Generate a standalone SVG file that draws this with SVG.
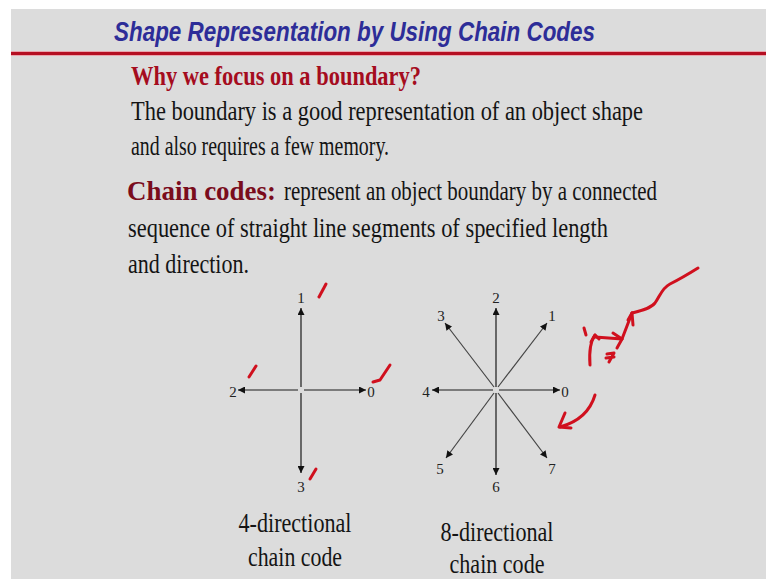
<svg xmlns="http://www.w3.org/2000/svg" width="766" height="579" viewBox="0 0 766 579">
<defs>
<marker id="ah" viewBox="0 0 10 10" refX="10" refY="5" markerWidth="8" markerHeight="7" markerUnits="userSpaceOnUse" orient="auto">
<path d="M0,0 L10,5 L0,10 z" fill="#111"/>
</marker>
<style>
.title{font-family:"Liberation Sans",Arial,sans-serif;font-weight:bold;font-style:italic;font-size:27px;fill:#2d2d98}
.body{font-family:"Liberation Serif","Times New Roman",serif;font-size:27px;fill:#141414}
.hd{font-family:"Liberation Serif","Times New Roman",serif;font-size:27px;font-weight:bold}
.lbl{font-family:"Liberation Serif","Times New Roman",serif;font-size:15px;fill:#222;text-anchor:middle}
.cap{font-family:"Liberation Serif","Times New Roman",serif;font-size:28px;fill:#141414;text-anchor:middle}
.ax{stroke:#1a1a1a;stroke-width:1.2;fill:none;marker-end:url(#ah)}
.dg{stroke:#444}
.ink{stroke:#d0101e;stroke-width:3;fill:none;stroke-linecap:round;stroke-linejoin:round}
</style>
</defs>
<rect x="0" y="0" width="766" height="579" fill="#ffffff"/>
<rect x="11" y="9" width="755" height="570" fill="#dcdcdc"/>
<text class="title" x="114" y="41" textLength="481" lengthAdjust="spacingAndGlyphs">Shape Representation by Using Chain Codes</text>
<rect x="11" y="51" width="755" height="5" fill="#e9a6ae"/>
<rect x="11" y="52" width="755" height="3" fill="#b50f22"/>

<text class="hd" x="131" y="85" fill="#a50c1e" textLength="290" lengthAdjust="spacingAndGlyphs">Why we focus on a boundary?</text>
<text class="body" x="131" y="120" textLength="512" lengthAdjust="spacingAndGlyphs">The boundary is a good representation of an object shape</text>
<text class="body" x="131" y="155" textLength="258" lengthAdjust="spacingAndGlyphs">and also requires a few memory.</text>
<text class="hd" x="127" y="200" fill="#7a0c1c" textLength="149" lengthAdjust="spacingAndGlyphs">Chain codes:</text>
<text class="body" x="284" y="200" textLength="373" lengthAdjust="spacingAndGlyphs">represent an object boundary by a connected</text>
<text class="body" x="128" y="237" textLength="480" lengthAdjust="spacingAndGlyphs">sequence of straight line segments of specified length</text>
<text class="body" x="128" y="273" textLength="121" lengthAdjust="spacingAndGlyphs">and direction.</text>

<g id="connectors">
<line class="ax" x1="301" y1="387" x2="301" y2="308"/>
<line class="ax" x1="298" y1="390" x2="238" y2="390"/>
<line class="ax" x1="304" y1="390" x2="366" y2="390"/>
<line class="ax" x1="301" y1="393" x2="301" y2="473"/>

<line class="ax" x1="496" y1="387" x2="496" y2="308"/>
<line class="ax" x1="493" y1="390" x2="432" y2="390"/>
<line class="ax" x1="499" y1="390" x2="560" y2="390"/>
<line class="ax" x1="496" y1="393" x2="496" y2="475"/>
<line class="ax dg" x1="498" y1="387" x2="547" y2="323"/>
<line class="ax dg" x1="494" y1="387" x2="445" y2="323"/>
<line class="ax dg" x1="494" y1="393" x2="446" y2="458"/>
<line class="ax dg" x1="498" y1="393" x2="547" y2="458"/>
</g>

<g id="four-labels">
<text class="lbl" x="301" y="303">1</text>
<text class="lbl" x="233" y="397">2</text>
<text class="lbl" x="371" y="397">0</text>
<text class="lbl" x="301" y="492">3</text>
</g>
<g id="eight-labels">
<text class="lbl" x="496" y="303">2</text>
<text class="lbl" x="552" y="321">1</text>
<text class="lbl" x="441" y="321">3</text>
<text class="lbl" x="426" y="397">4</text>
<text class="lbl" x="565" y="397">0</text>
<text class="lbl" x="440" y="474">5</text>
<text class="lbl" x="496" y="492">6</text>
<text class="lbl" x="552" y="474">7</text>
</g>

<g id="cap4">
<text class="cap" x="295" y="532" textLength="113" lengthAdjust="spacingAndGlyphs">4-directional</text>
<text class="cap" x="295" y="566" textLength="94" lengthAdjust="spacingAndGlyphs">chain code</text>
</g>
<g id="cap8">
<text class="cap" x="497" y="541" textLength="113" lengthAdjust="spacingAndGlyphs">8-directional</text>
<text class="cap" x="497" y="573" textLength="95" lengthAdjust="spacingAndGlyphs">chain code</text>
</g>

<g id="ink">
<path class="ink" d="M319,297 L326,284"/>
<path class="ink" d="M249,377 L256,366"/>
<path class="ink" d="M373,382 L380,380 L390,365"/>
<path class="ink" d="M310,479 L316,469"/>
<path class="ink" d="M590,365 C589,352 590,342 595,335"/>
<path class="ink" d="M591,342 L595,335 L599,339"/>
<path class="ink" d="M584,328 L586,335"/>
<path class="ink" d="M595,337 L622,339"/>
<path class="ink" d="M613,333 L622,339 L617,348"/>
<path class="ink" d="M622,339 L632,313"/>
<path class="ink" d="M628,320 L632,313 L633,325"/>
<path class="ink" d="M632,313 C640,311 650,309 655,303 C660,296 662,288 670,284 C680,279 690,273 698,268"/>
<path class="ink" d="M607,354 L614,353 L609,362 M606,358 L614,357"/>
<path class="ink" d="M595,395 C590,412 578,422 560,427"/>
<path class="ink" d="M565,413 L559,427 L571,428"/>
</g>
</svg>
